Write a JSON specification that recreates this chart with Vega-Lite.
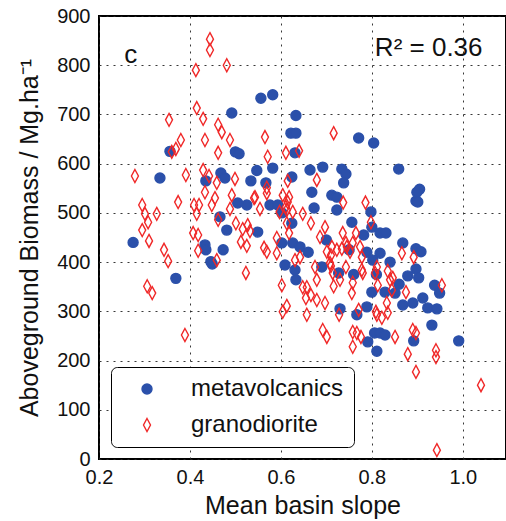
{
  "$schema": "https://vega.github.io/schema/vega-lite/v6.json",
  "autosize": {"type": "none"},
  "padding": {"left": 99, "top": 16, "right": 0, "bottom": 62},
  "width": 407,
  "height": 443,
  "background": "white",
  "config": {
    "font": "Liberation Sans",
    "view": {"stroke": "black", "strokeWidth": 2},
    "axis": {
      "domain": false,
      "tickColor": "black", "tickWidth": 1.5, "tickSize": 6,
      "labelColor": "#111", "titleColor": "#111",
      "labelFontSize": 20, "titleFontSize": 25, "titleFontWeight": "normal",
      "gridColor": "#222", "gridDash": [2, 5], "gridWidth": 1, "gridOpacity": 0.9
    }
  },
  "datasets": {
    "pts": [
      {"slope":0.275,"biomass":440,"rock":"metavolcanics"},
      {"slope":0.334,"biomass":571,"rock":"metavolcanics"},
      {"slope":0.356,"biomass":625,"rock":"metavolcanics"},
      {"slope":0.369,"biomass":367,"rock":"metavolcanics"},
      {"slope":0.433,"biomass":435,"rock":"metavolcanics"},
      {"slope":0.435,"biomass":425,"rock":"metavolcanics"},
      {"slope":0.446,"biomass":401,"rock":"metavolcanics"},
      {"slope":0.449,"biomass":396,"rock":"metavolcanics"},
      {"slope":0.435,"biomass":565,"rock":"metavolcanics"},
      {"slope":0.468,"biomass":581,"rock":"metavolcanics"},
      {"slope":0.477,"biomass":571,"rock":"metavolcanics"},
      {"slope":0.492,"biomass":703,"rock":"metavolcanics"},
      {"slope":0.500,"biomass":624,"rock":"metavolcanics"},
      {"slope":0.508,"biomass":620,"rock":"metavolcanics"},
      {"slope":0.534,"biomass":565,"rock":"metavolcanics"},
      {"slope":0.547,"biomass":586,"rock":"metavolcanics"},
      {"slope":0.567,"biomass":561,"rock":"metavolcanics"},
      {"slope":0.582,"biomass":591,"rock":"metavolcanics"},
      {"slope":0.556,"biomass":733,"rock":"metavolcanics"},
      {"slope":0.582,"biomass":740,"rock":"metavolcanics"},
      {"slope":0.622,"biomass":662,"rock":"metavolcanics"},
      {"slope":0.633,"biomass":662,"rock":"metavolcanics"},
      {"slope":0.633,"biomass":698,"rock":"metavolcanics"},
      {"slope":0.631,"biomass":622,"rock":"metavolcanics"},
      {"slope":0.624,"biomass":573,"rock":"metavolcanics"},
      {"slope":0.664,"biomass":587,"rock":"metavolcanics"},
      {"slope":0.692,"biomass":593,"rock":"metavolcanics"},
      {"slope":0.734,"biomass":589,"rock":"metavolcanics"},
      {"slope":0.743,"biomass":579,"rock":"metavolcanics"},
      {"slope":0.738,"biomass":561,"rock":"metavolcanics"},
      {"slope":0.771,"biomass":652,"rock":"metavolcanics"},
      {"slope":0.804,"biomass":642,"rock":"metavolcanics"},
      {"slope":0.859,"biomass":589,"rock":"metavolcanics"},
      {"slope":0.905,"biomass":548,"rock":"metavolcanics"},
      {"slope":0.897,"biomass":524,"rock":"metavolcanics"},
      {"slope":0.668,"biomass":542,"rock":"metavolcanics"},
      {"slope":0.712,"biomass":536,"rock":"metavolcanics"},
      {"slope":0.723,"biomass":532,"rock":"metavolcanics"},
      {"slope":0.673,"biomass":510,"rock":"metavolcanics"},
      {"slope":0.723,"biomass":506,"rock":"metavolcanics"},
      {"slope":0.798,"biomass":502,"rock":"metavolcanics"},
      {"slope":0.756,"biomass":481,"rock":"metavolcanics"},
      {"slope":0.800,"biomass":471,"rock":"metavolcanics"},
      {"slope":0.782,"biomass":455,"rock":"metavolcanics"},
      {"slope":0.505,"biomass":520,"rock":"metavolcanics"},
      {"slope":0.525,"biomass":516,"rock":"metavolcanics"},
      {"slope":0.576,"biomass":516,"rock":"metavolcanics"},
      {"slope":0.593,"biomass":516,"rock":"metavolcanics"},
      {"slope":0.549,"biomass":461,"rock":"metavolcanics"},
      {"slope":0.481,"biomass":465,"rock":"metavolcanics"},
      {"slope":0.466,"biomass":492,"rock":"metavolcanics"},
      {"slope":0.473,"biomass":425,"rock":"metavolcanics"},
      {"slope":0.602,"biomass":439,"rock":"metavolcanics"},
      {"slope":0.626,"biomass":439,"rock":"metavolcanics"},
      {"slope":0.642,"biomass":431,"rock":"metavolcanics"},
      {"slope":0.602,"biomass":500,"rock":"metavolcanics"},
      {"slope":0.624,"biomass":479,"rock":"metavolcanics"},
      {"slope":0.609,"biomass":394,"rock":"metavolcanics"},
      {"slope":0.631,"biomass":384,"rock":"metavolcanics"},
      {"slope":0.690,"biomass":390,"rock":"metavolcanics"},
      {"slope":0.727,"biomass":378,"rock":"metavolcanics"},
      {"slope":0.818,"biomass":459,"rock":"metavolcanics"},
      {"slope":0.818,"biomass":418,"rock":"metavolcanics"},
      {"slope":0.802,"biomass":404,"rock":"metavolcanics"},
      {"slope":0.789,"biomass":420,"rock":"metavolcanics"},
      {"slope":0.831,"biomass":459,"rock":"metavolcanics"},
      {"slope":0.868,"biomass":439,"rock":"metavolcanics"},
      {"slope":0.897,"biomass":427,"rock":"metavolcanics"},
      {"slope":0.908,"biomass":421,"rock":"metavolcanics"},
      {"slope":0.897,"biomass":386,"rock":"metavolcanics"},
      {"slope":0.879,"biomass":372,"rock":"metavolcanics"},
      {"slope":0.903,"biomass":368,"rock":"metavolcanics"},
      {"slope":0.899,"biomass":542,"rock":"metavolcanics"},
      {"slope":0.901,"biomass":522,"rock":"metavolcanics"},
      {"slope":0.730,"biomass":305,"rock":"metavolcanics"},
      {"slope":0.767,"biomass":293,"rock":"metavolcanics"},
      {"slope":0.789,"biomass":309,"rock":"metavolcanics"},
      {"slope":0.791,"biomass":238,"rock":"metavolcanics"},
      {"slope":0.811,"biomass":219,"rock":"metavolcanics"},
      {"slope":0.806,"biomass":256,"rock":"metavolcanics"},
      {"slope":0.818,"biomass":256,"rock":"metavolcanics"},
      {"slope":0.829,"biomass":252,"rock":"metavolcanics"},
      {"slope":0.800,"biomass":339,"rock":"metavolcanics"},
      {"slope":0.829,"biomass":339,"rock":"metavolcanics"},
      {"slope":0.851,"biomass":337,"rock":"metavolcanics"},
      {"slope":0.868,"biomass":313,"rock":"metavolcanics"},
      {"slope":0.890,"biomass":317,"rock":"metavolcanics"},
      {"slope":0.912,"biomass":327,"rock":"metavolcanics"},
      {"slope":0.923,"biomass":307,"rock":"metavolcanics"},
      {"slope":0.943,"biomass":305,"rock":"metavolcanics"},
      {"slope":0.932,"biomass":272,"rock":"metavolcanics"},
      {"slope":0.892,"biomass":240,"rock":"metavolcanics"},
      {"slope":0.991,"biomass":240,"rock":"metavolcanics"},
      {"slope":0.938,"biomass":353,"rock":"metavolcanics"},
      {"slope":0.949,"biomass":337,"rock":"metavolcanics"},
      {"slope":0.633,"biomass":364,"rock":"metavolcanics"},
      {"slope":0.700,"biomass":445,"rock":"metavolcanics"},
      {"slope":0.750,"biomass":425,"rock":"metavolcanics"},
      {"slope":0.760,"biomass":375,"rock":"metavolcanics"},
      {"slope":0.840,"biomass":400,"rock":"metavolcanics"},
      {"slope":0.860,"biomass":355,"rock":"metavolcanics"},
      {"slope":0.810,"biomass":375,"rock":"metavolcanics"},
      {"slope":0.660,"biomass":420,"rock":"metavolcanics"},
      {"slope":0.444,"biomass":853,"rock":"granodiorite"},
      {"slope":0.444,"biomass":831,"rock":"granodiorite"},
      {"slope":0.413,"biomass":790,"rock":"granodiorite"},
      {"slope":0.481,"biomass":800,"rock":"granodiorite"},
      {"slope":0.415,"biomass":713,"rock":"granodiorite"},
      {"slope":0.429,"biomass":691,"rock":"granodiorite"},
      {"slope":0.354,"biomass":689,"rock":"granodiorite"},
      {"slope":0.462,"biomass":679,"rock":"granodiorite"},
      {"slope":0.470,"biomass":664,"rock":"granodiorite"},
      {"slope":0.488,"biomass":648,"rock":"granodiorite"},
      {"slope":0.433,"biomass":648,"rock":"granodiorite"},
      {"slope":0.565,"biomass":654,"rock":"granodiorite"},
      {"slope":0.380,"biomass":648,"rock":"granodiorite"},
      {"slope":0.369,"biomass":630,"rock":"granodiorite"},
      {"slope":0.360,"biomass":624,"rock":"granodiorite"},
      {"slope":0.462,"biomass":622,"rock":"granodiorite"},
      {"slope":0.571,"biomass":614,"rock":"granodiorite"},
      {"slope":0.611,"biomass":622,"rock":"granodiorite"},
      {"slope":0.279,"biomass":575,"rock":"granodiorite"},
      {"slope":0.391,"biomass":577,"rock":"granodiorite"},
      {"slope":0.429,"biomass":587,"rock":"granodiorite"},
      {"slope":0.442,"biomass":575,"rock":"granodiorite"},
      {"slope":0.499,"biomass":569,"rock":"granodiorite"},
      {"slope":0.459,"biomass":561,"rock":"granodiorite"},
      {"slope":0.615,"biomass":565,"rock":"granodiorite"},
      {"slope":0.640,"biomass":626,"rock":"granodiorite"},
      {"slope":0.716,"biomass":662,"rock":"granodiorite"},
      {"slope":0.679,"biomass":567,"rock":"granodiorite"},
      {"slope":0.569,"biomass":551,"rock":"granodiorite"},
      {"slope":0.543,"biomass":532,"rock":"granodiorite"},
      {"slope":0.604,"biomass":536,"rock":"granodiorite"},
      {"slope":0.618,"biomass":532,"rock":"granodiorite"},
      {"slope":0.737,"biomass":521,"rock":"granodiorite"},
      {"slope":0.786,"biomass":521,"rock":"granodiorite"},
      {"slope":0.554,"biomass":508,"rock":"granodiorite"},
      {"slope":0.597,"biomass":502,"rock":"granodiorite"},
      {"slope":0.611,"biomass":512,"rock":"granodiorite"},
      {"slope":0.295,"biomass":516,"rock":"granodiorite"},
      {"slope":0.301,"biomass":498,"rock":"granodiorite"},
      {"slope":0.327,"biomass":498,"rock":"granodiorite"},
      {"slope":0.308,"biomass":481,"rock":"granodiorite"},
      {"slope":0.295,"biomass":465,"rock":"granodiorite"},
      {"slope":0.310,"biomass":443,"rock":"granodiorite"},
      {"slope":0.374,"biomass":522,"rock":"granodiorite"},
      {"slope":0.343,"biomass":425,"rock":"granodiorite"},
      {"slope":0.352,"biomass":402,"rock":"granodiorite"},
      {"slope":0.433,"biomass":542,"rock":"granodiorite"},
      {"slope":0.409,"biomass":516,"rock":"granodiorite"},
      {"slope":0.420,"biomass":516,"rock":"granodiorite"},
      {"slope":0.415,"biomass":498,"rock":"granodiorite"},
      {"slope":0.448,"biomass":516,"rock":"granodiorite"},
      {"slope":0.407,"biomass":459,"rock":"granodiorite"},
      {"slope":0.418,"biomass":455,"rock":"granodiorite"},
      {"slope":0.418,"biomass":423,"rock":"granodiorite"},
      {"slope":0.306,"biomass":351,"rock":"granodiorite"},
      {"slope":0.317,"biomass":337,"rock":"granodiorite"},
      {"slope":0.389,"biomass":252,"rock":"granodiorite"},
      {"slope":0.602,"biomass":353,"rock":"granodiorite"},
      {"slope":0.604,"biomass":299,"rock":"granodiorite"},
      {"slope":0.613,"biomass":311,"rock":"granodiorite"},
      {"slope":0.492,"biomass":536,"rock":"granodiorite"},
      {"slope":0.541,"biomass":530,"rock":"granodiorite"},
      {"slope":0.569,"biomass":540,"rock":"granodiorite"},
      {"slope":0.615,"biomass":522,"rock":"granodiorite"},
      {"slope":0.613,"biomass":506,"rock":"granodiorite"},
      {"slope":0.626,"biomass":502,"rock":"granodiorite"},
      {"slope":0.488,"biomass":508,"rock":"granodiorite"},
      {"slope":0.462,"biomass":486,"rock":"granodiorite"},
      {"slope":0.501,"biomass":479,"rock":"granodiorite"},
      {"slope":0.527,"biomass":475,"rock":"granodiorite"},
      {"slope":0.532,"biomass":463,"rock":"granodiorite"},
      {"slope":0.512,"biomass":441,"rock":"granodiorite"},
      {"slope":0.525,"biomass":433,"rock":"granodiorite"},
      {"slope":0.563,"biomass":429,"rock":"granodiorite"},
      {"slope":0.569,"biomass":421,"rock":"granodiorite"},
      {"slope":0.591,"biomass":449,"rock":"granodiorite"},
      {"slope":0.591,"biomass":418,"rock":"granodiorite"},
      {"slope":0.613,"biomass":479,"rock":"granodiorite"},
      {"slope":0.618,"biomass":459,"rock":"granodiorite"},
      {"slope":0.631,"biomass":404,"rock":"granodiorite"},
      {"slope":0.523,"biomass":378,"rock":"granodiorite"},
      {"slope":0.459,"biomass":404,"rock":"granodiorite"},
      {"slope":0.648,"biomass":498,"rock":"granodiorite"},
      {"slope":0.666,"biomass":479,"rock":"granodiorite"},
      {"slope":0.697,"biomass":471,"rock":"granodiorite"},
      {"slope":0.798,"biomass":481,"rock":"granodiorite"},
      {"slope":0.736,"biomass":459,"rock":"granodiorite"},
      {"slope":0.765,"biomass":459,"rock":"granodiorite"},
      {"slope":0.686,"biomass":451,"rock":"granodiorite"},
      {"slope":0.758,"biomass":439,"rock":"granodiorite"},
      {"slope":0.743,"biomass":439,"rock":"granodiorite"},
      {"slope":0.745,"biomass":431,"rock":"granodiorite"},
      {"slope":0.712,"biomass":431,"rock":"granodiorite"},
      {"slope":0.723,"biomass":425,"rock":"granodiorite"},
      {"slope":0.734,"biomass":427,"rock":"granodiorite"},
      {"slope":0.752,"biomass":421,"rock":"granodiorite"},
      {"slope":0.774,"biomass":431,"rock":"granodiorite"},
      {"slope":0.778,"biomass":410,"rock":"granodiorite"},
      {"slope":0.710,"biomass":414,"rock":"granodiorite"},
      {"slope":0.701,"biomass":421,"rock":"granodiorite"},
      {"slope":0.675,"biomass":390,"rock":"granodiorite"},
      {"slope":0.710,"biomass":392,"rock":"granodiorite"},
      {"slope":0.743,"biomass":390,"rock":"granodiorite"},
      {"slope":0.778,"biomass":384,"rock":"granodiorite"},
      {"slope":0.811,"biomass":390,"rock":"granodiorite"},
      {"slope":0.642,"biomass":410,"rock":"granodiorite"},
      {"slope":0.866,"biomass":418,"rock":"granodiorite"},
      {"slope":0.892,"biomass":410,"rock":"granodiorite"},
      {"slope":0.835,"biomass":382,"rock":"granodiorite"},
      {"slope":0.846,"biomass":368,"rock":"granodiorite"},
      {"slope":0.657,"biomass":349,"rock":"granodiorite"},
      {"slope":0.679,"biomass":364,"rock":"granodiorite"},
      {"slope":0.666,"biomass":333,"rock":"granodiorite"},
      {"slope":0.679,"biomass":323,"rock":"granodiorite"},
      {"slope":0.697,"biomass":317,"rock":"granodiorite"},
      {"slope":0.657,"biomass":293,"rock":"granodiorite"},
      {"slope":0.692,"biomass":262,"rock":"granodiorite"},
      {"slope":0.701,"biomass":248,"rock":"granodiorite"},
      {"slope":0.716,"biomass":351,"rock":"granodiorite"},
      {"slope":0.728,"biomass":293,"rock":"granodiorite"},
      {"slope":0.756,"biomass":337,"rock":"granodiorite"},
      {"slope":0.758,"biomass":358,"rock":"granodiorite"},
      {"slope":0.758,"biomass":258,"rock":"granodiorite"},
      {"slope":0.767,"biomass":256,"rock":"granodiorite"},
      {"slope":0.776,"biomass":248,"rock":"granodiorite"},
      {"slope":0.758,"biomass":228,"rock":"granodiorite"},
      {"slope":0.771,"biomass":303,"rock":"granodiorite"},
      {"slope":0.811,"biomass":293,"rock":"granodiorite"},
      {"slope":0.822,"biomass":287,"rock":"granodiorite"},
      {"slope":0.835,"biomass":297,"rock":"granodiorite"},
      {"slope":0.833,"biomass":317,"rock":"granodiorite"},
      {"slope":0.851,"biomass":248,"rock":"granodiorite"},
      {"slope":0.844,"biomass":343,"rock":"granodiorite"},
      {"slope":0.875,"biomass":339,"rock":"granodiorite"},
      {"slope":0.890,"biomass":262,"rock":"granodiorite"},
      {"slope":0.897,"biomass":256,"rock":"granodiorite"},
      {"slope":0.879,"biomass":213,"rock":"granodiorite"},
      {"slope":0.897,"biomass":177,"rock":"granodiorite"},
      {"slope":0.941,"biomass":221,"rock":"granodiorite"},
      {"slope":0.941,"biomass":207,"rock":"granodiorite"},
      {"slope":1.040,"biomass":150,"rock":"granodiorite"},
      {"slope":0.943,"biomass":18,"rock":"granodiorite"},
      {"slope":0.954,"biomass":353,"rock":"granodiorite"},
      {"slope":0.714,"biomass":378,"rock":"granodiorite"},
      {"slope":0.708,"biomass":398,"rock":"granodiorite"},
      {"slope":0.730,"biomass":364,"rock":"granodiorite"},
      {"slope":0.780,"biomass":378,"rock":"granodiorite"},
      {"slope":0.648,"biomass":349,"rock":"granodiorite"},
      {"slope":0.655,"biomass":327,"rock":"granodiorite"},
      {"slope":0.807,"biomass":378,"rock":"granodiorite"},
      {"slope":0.813,"biomass":353,"rock":"granodiorite"},
      {"slope":0.840,"biomass":364,"rock":"granodiorite"},
      {"slope":0.809,"biomass":299,"rock":"granodiorite"},
      {"slope":0.455,"biomass":530,"rock":"granodiorite"},
      {"slope":0.516,"biomass":467,"rock":"granodiorite"}
    ],
    "notes": [
      {"slope":0.27,"biomass":820,"label":"c"},
      {"slope":0.925,"biomass":835,"label":"R²  = 0.36"}
    ]
  },
  "layer": [
    {
      "data": {"name": "pts"},
      "mark": {"type": "point", "filled": true, "opacity": 1, "size": 100, "strokeWidth": 1.4},
      "encoding": {
        "x": {"field": "slope", "type": "quantitative",
          "scale": {"domain": [0.2, 1.095], "nice": false, "zero": false},
          "axis": {"orient": "bottom", "values": [0.2, 0.4, 0.6, 0.8, 1.0], "format": ".1f",
            "grid": true, "ticks": false, "labelFlush": false, "labelPadding": 8,
            "title": "Mean basin slope", "titlePadding": 6}},
        "y": {"field": "biomass", "type": "quantitative",
          "scale": {"domain": [0, 900], "nice": false, "zero": false},
          "axis": {"orient": "left", "values": [0, 100, 200, 300, 400, 500, 600, 700, 800, 900],
            "grid": true, "ticks": false, "labelFlush": false, "labelPadding": 9,
            "title": "Aboveground Biomass / Mg.ha⁻¹", "titlePadding": 14}},
        "shape": {"field": "rock", "type": "nominal",
          "scale": {"domain": ["metavolcanics", "granodiorite"], "range": ["circle", "M0,-1.3L0.7,0L0,1.3L-0.7,0Z"]},
          "legend": {"orient": "none", "legendX": 12, "legendY": 351, "title": null,
            "fillColor": "white", "strokeColor": "black", "cornerRadius": 6,
            "padding": 10, "labelFontSize": 24, "labelOffset": 32, "symbolOffset": 14,
            "rowPadding": 12, "symbolStrokeWidth": 1.4, "symbolSize": 100, "labelColor": "#111"}},
        "fill": {"field": "rock", "type": "nominal",
          "scale": {"domain": ["metavolcanics", "granodiorite"], "range": ["#2b50aa", "transparent"]},
          "legend": {"title": null}},
        "stroke": {"field": "rock", "type": "nominal",
          "scale": {"domain": ["metavolcanics", "granodiorite"], "range": ["#2b50aa", "#f02828"]},
          "legend": {"title": null}}
      }
    },
    {
      "data": {"name": "notes"},
      "mark": {"type": "text", "fontSize": 26, "color": "#111", "align": "center", "baseline": "middle"},
      "encoding": {
        "text": {"field": "label"},
        "x": {"field": "slope", "type": "quantitative"},
        "y": {"field": "biomass", "type": "quantitative"}
      }
    }
  ]
}
